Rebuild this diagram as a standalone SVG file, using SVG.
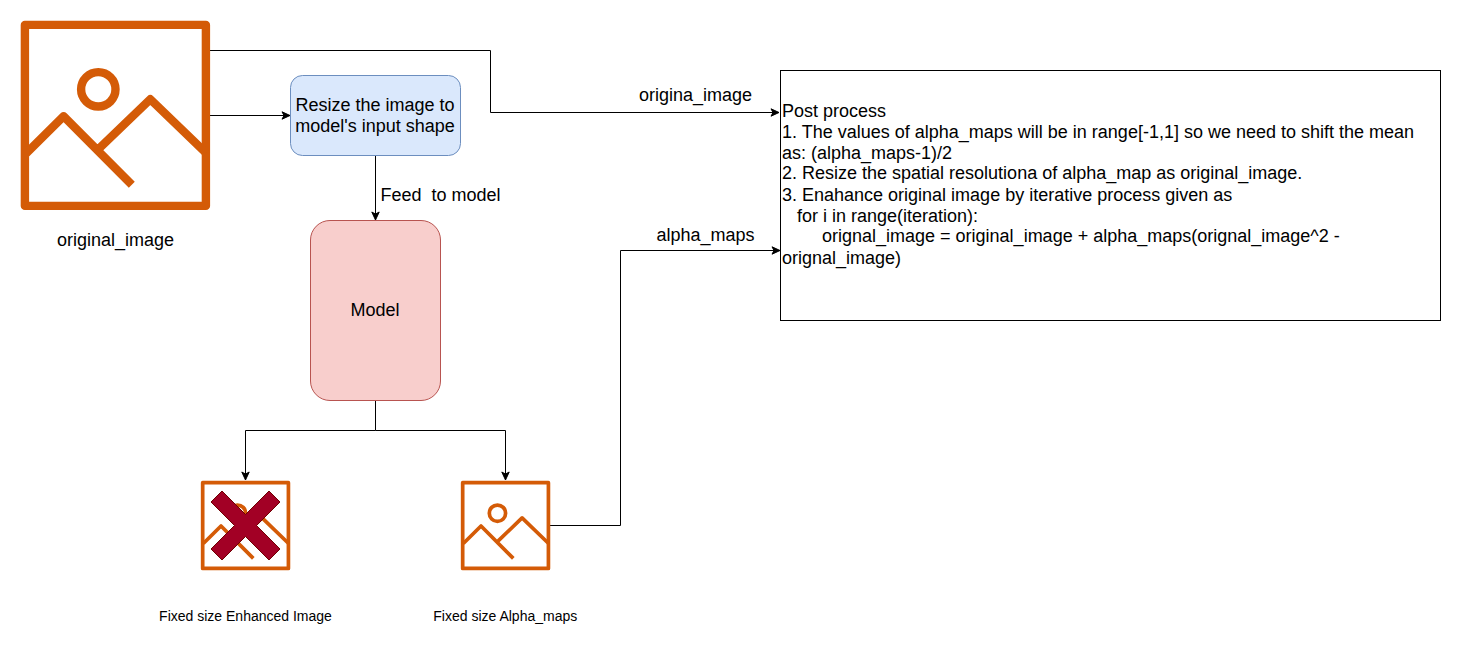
<svg xmlns="http://www.w3.org/2000/svg" xmlns:xlink="http://www.w3.org/1999/xlink" width="1462" height="652" viewBox="0 0 1462 652">
<style>
text{font-family:"Liberation Sans",Arial,sans-serif;font-size:18px;fill:#000}
.sm{font-size:14px}
.mid{text-anchor:middle}
.wire{fill:none;stroke:#000;stroke-width:1}
.ic{fill:none;stroke:#D45B07;stroke-linejoin:round}
</style>
<defs>
<marker id="arr" markerUnits="userSpaceOnUse" markerWidth="10" markerHeight="10" refX="9" refY="5" orient="auto"><path d="M1 1.300L9 5L1 8.700L3 5Z" fill="#000" stroke="#000" stroke-width="1"/></marker>
<g id="icon"><rect class="ic" x="4.600" y="4.600" width="181" height="181"/><circle class="ic" cx="78" cy="69" r="17.200"/><path class="ic" d="M6 133L43.300 96L111.500 164.500M78 129L130 79L186 133"/></g>
</defs>
<rect width="1462" height="652" fill="#fff"/>
<g id="connectors">
<path class="wire" d="M210 50.500H490.500V112.500H779" marker-end="url(#arr)"/>
<path class="wire" d="M210 115.500H290" marker-end="url(#arr)"/>
<path class="wire" d="M375.500 155V220" marker-end="url(#arr)"/>
<path class="wire" d="M375.500 400V430.500H245.500V480" marker-end="url(#arr)"/>
<path class="wire" d="M375.500 430.500H505.500V480" marker-end="url(#arr)"/>
<path class="wire" d="M550 525.500H620.500V250.500H780" marker-end="url(#arr)"/>
<text x="695.500" y="101" class="mid">origina_image</text>
<text x="705.500" y="241" class="mid">alpha_maps</text>
<text x="380.500" y="201" style="white-space:pre">Feed  to model</text>
</g>
<g id="original_image"><use href="#icon" stroke-width="8.400" transform="translate(20.300 20.300)"/><text x="115.500" y="246" class="mid">original_image</text></g>
<g id="resize"><rect x="290.500" y="75.500" width="170" height="80" rx="12" fill="#dae8fc" stroke="#6c8ebf"/><text x="375" y="111" class="mid">Resize the image to</text><text x="375" y="132" class="mid">model's input shape</text></g>
<g id="model"><rect x="310.500" y="220.500" width="130" height="180" rx="19.500" fill="#f8cecc" stroke="#b85450"/><text x="375" y="316" class="mid">Model</text></g>
<g id="enhanced"><use href="#icon" stroke-width="7.800" transform="translate(200.500 480.500) scale(.4737)"/><path d="M222 491L245.500 514.500L269 491L280 502L256.500 525.500L280 549L269 560L245.500 536.500L222 560L211 549L234.500 525.500L211 502Z" fill="#a20025" stroke="#6f0000"/><text x="245.500" y="621" class="mid sm">Fixed size Enhanced Image</text></g>
<g id="alpha"><use href="#icon" stroke-width="7.800" transform="translate(460.500 480.500) scale(.4737)"/><text x="505.250" y="621" class="mid sm">Fixed size Alpha_maps</text></g>
<g id="post"><rect x="780.500" y="70.500" width="660" height="250" fill="#fff" stroke="#000"/>
<text x="782" y="117">Post process</text>
<text x="782" y="138">1. The values of alpha_maps will be in range[-1,1] so we need to shift the mean</text>
<text x="782" y="159">as: (alpha_maps-1)/2</text>
<text x="782" y="179">2. Resize the spatial resolutiona of alpha_map as original_image.</text>
<text x="782" y="201">3. Enahance original image by iterative process given as</text>
<text x="797" y="222">for i in range(iteration):</text>
<text x="822" y="242">orignal_image = original_image + alpha_maps(orignal_image^2 -</text>
<text x="782" y="264">orignal_image)</text>
</g>
</svg>
